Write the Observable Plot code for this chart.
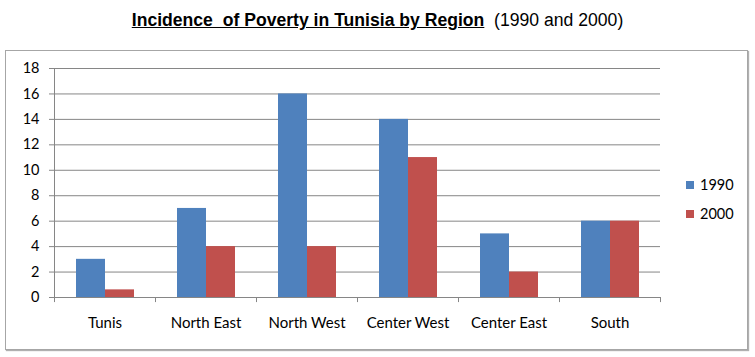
<!DOCTYPE html>
<html>
<head>
<meta charset="utf-8">
<script src="https://cdn.jsdelivr.net/npm/d3@7"></script>
<script src="https://cdn.jsdelivr.net/npm/@observablehq/plot@0.6"></script>
<style>
  body { margin: 0; background: #fff; }
  #wrap { position: relative; width: 755px; height: 357px; overflow: hidden; background: #fff; }
  #title { position: absolute; left: 0; top: 11px; width: 755px; text-align: center;
    font-family: "Liberation Sans", Arial, sans-serif; font-size: 17.6px; line-height: 18px; color: #000; }
  #title b { text-decoration: underline; }
  #box { position: absolute; left: 5px; top: 50px; width: 741px; height: 298px;
    border: 1px solid #a6a6a6; box-shadow: 1px 1px 1px #b0b0b0; background: #fff; }
  #box svg { position: absolute; left: 0; top: 0; }
  .lg { position: absolute; font-family: Lato, sans-serif; font-size: 14.5px; line-height: 14px; color: #000; }
  .sw { position: absolute; width: 8px; height: 8px; }
</style>
</head>
<body>
<div id="wrap">
  <div id="title"><b>Incidence&nbsp; of Poverty in Tunisia by Region</b>&nbsp; (1990 and 2000)</div>
  <div id="box"></div>
  <div id="legend"></div>
</div>
<script>
const regions = ["Tunis", "North East", "North West", "Center West", "Center East", "South"];
const values1990 = [3, 7, 16, 14, 5, 6];
const values2000 = [0.6, 4, 4, 11, 2, 6];
const years = ["1990", "2000"];
const colors = ["#4F81BD", "#C0504D"];
const yTicks = [0, 2, 4, 6, 8, 10, 12, 14, 16, 18];

const W = 741, H = 298, mL = 48, mR = 87, mT = 17, mB = 52;
const bw = (W - mL - mR) / regions.length;
const gray = "#868686";

const chart = Plot.plot({
  width: W,
  height: H,
  marginLeft: mL,
  marginRight: mR,
  marginTop: mT,
  marginBottom: mB,
  style: { fontFamily: "Lato, sans-serif", fontSize: "15px", color: "#000", background: "transparent" },
  x: { domain: regions, padding: 0 },
  y: { domain: [0, 18] },
  marks: [
    Plot.gridY(yTicks.filter(d => d > 0), { stroke: gray, strokeOpacity: 1 }),
    Plot.barY(regions, { x: d => d, y: (d, i) => values1990[i], fill: colors[0], insetLeft: 22, insetRight: 50 }),
    Plot.barY(regions, { x: d => d, y: (d, i) => values2000[i], fill: colors[1], insetLeft: 51, insetRight: 21 }),
    Plot.ruleY([0], { stroke: gray }),
    Plot.ruleX([regions[0]], { x: d => d, y1: 0, y2: 18, dx: -bw / 2, stroke: gray }),
    Plot.ruleX(regions, { x: d => d, y1: 0, y2: -0.4, dx: -bw / 2, stroke: gray }),
    Plot.ruleX([regions[regions.length - 1]], { x: d => d, y1: 0, y2: -0.4, dx: bw / 2, stroke: gray }),
    Plot.axisY(yTicks, { tickSize: 5, tickPadding: 10, stroke: gray, fill: "#000", fontSize: 14.5, label: null }),
    Plot.axisX({ tickSize: 0, tickPadding: 20, fill: "#000", fontSize: 15, label: null })
  ]
});
document.getElementById("box").appendChild(chart);

const legend = document.getElementById("legend");
years.forEach((yr, i) => {
  const sw = document.createElement("div");
  sw.className = "sw";
  sw.style.left = "686px";
  sw.style.top = (181 + i * 29) + "px";
  sw.style.background = colors[i];
  legend.appendChild(sw);
  const t = document.createElement("div");
  t.className = "lg";
  t.style.left = "700px";
  t.style.top = (178 + i * 29) + "px";
  t.textContent = yr;
  legend.appendChild(t);
});
</script>
</body>
</html>
